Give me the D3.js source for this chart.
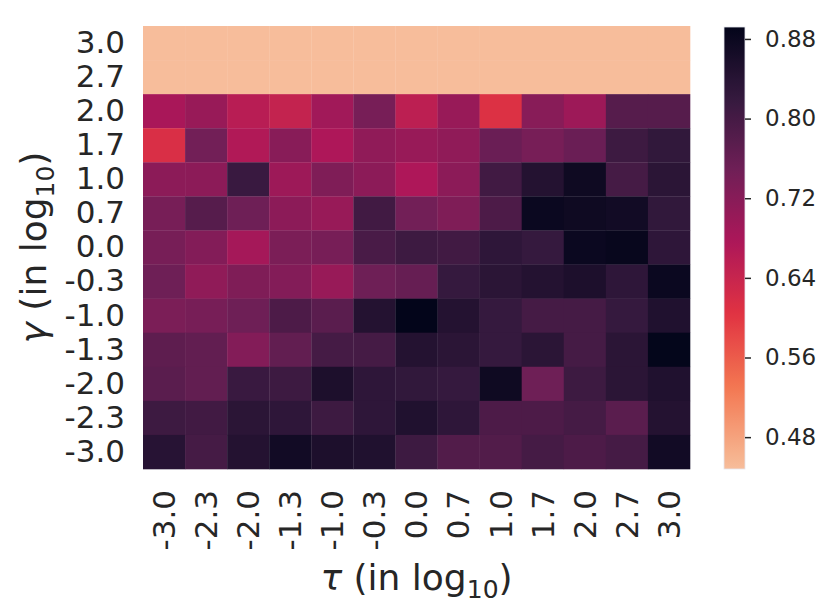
<!DOCTYPE html>
<html><head><meta charset="utf-8">
<script src="https://cdn.jsdelivr.net/npm/d3@7"></script>
<style>body{margin:0;background:#fff}text{font-family:"DejaVu Sans",sans-serif;fill:#262626}</style>
</head><body><svg id="c" width="830" height="613"></svg>
<script>
const tauLabels = ["-3.0","-2.3","-2.0","-1.3","-1.0","-0.3","0.0","0.7","1.0","1.7","2.0","2.7","3.0"];
const gammaLabels = ["3.0","2.7","2.0","1.7","1.0","0.7","0.0","-0.3","-1.0","-1.3","-2.0","-2.3","-3.0"];
const g30  = [0.448,0.448,0.448,0.448,0.448,0.448,0.448,0.448,0.448,0.448,0.448,0.448,0.448];
const g27  = [0.448,0.448,0.448,0.448,0.448,0.448,0.448,0.448,0.448,0.448,0.448,0.448,0.448];
const g20  = [0.68,0.70,0.66,0.645,0.69,0.74,0.655,0.70,0.61,0.72,0.695,0.78,0.78];
const g17  = [0.615,0.745,0.67,0.72,0.675,0.71,0.70,0.71,0.755,0.74,0.755,0.81,0.825];
const g10  = [0.715,0.715,0.815,0.695,0.73,0.715,0.675,0.715,0.805,0.845,0.875,0.80,0.835];
const g07  = [0.74,0.78,0.75,0.715,0.70,0.805,0.745,0.73,0.79,0.88,0.875,0.87,0.825];
const g00  = [0.74,0.725,0.685,0.735,0.74,0.795,0.81,0.805,0.83,0.82,0.88,0.885,0.83];
const gm03 = [0.75,0.71,0.73,0.725,0.70,0.75,0.76,0.82,0.835,0.845,0.855,0.83,0.88];
const gm10 = [0.735,0.74,0.75,0.79,0.775,0.845,0.892,0.845,0.82,0.80,0.80,0.82,0.85];
const gm13 = [0.77,0.765,0.725,0.765,0.80,0.80,0.845,0.835,0.82,0.835,0.80,0.835,0.89];
const gm20 = [0.775,0.765,0.815,0.81,0.855,0.83,0.825,0.82,0.875,0.75,0.81,0.835,0.85];
const gm23 = [0.81,0.805,0.835,0.83,0.81,0.83,0.85,0.83,0.79,0.79,0.80,0.775,0.845];
const gm30 = [0.84,0.80,0.845,0.87,0.855,0.85,0.81,0.785,0.785,0.80,0.79,0.80,0.87];
const cbTicks = [0.48,0.56,0.64,0.72,0.80,0.88];
const vmin = 0.448, vmax = 0.892;

const rows = [g30,g27,g20,g17,g10,g07,g00,gm03,gm10,gm13,gm20,gm23,gm30];
const cells = [];
rows.forEach((r,i)=>r.forEach((v,j)=>cells.push({g:gammaLabels[i],t:tauLabels[j],v})));

const rocketStops = ["#03051a","#35193e","#701f57","#ad1759","#e13342","#f37651","#f6b48f","#faebdd"];
const rocket = d3.piecewise(d3.interpolateRgb, rocketStops);
const color = d3.scaleSequential(t => rocket(0.88*(1-t))).domain([vmin, vmax]);

const svg = d3.select("#c");
const L=143, R=690, T=26, B=469;
const x = d3.scaleBand().domain(tauLabels).range([L,R]);
const y = d3.scaleBand().domain(gammaLabels).range([T,B]);

svg.append("g").selectAll("rect").data(cells).join("rect")
  .attr("x",d=>x(d.t)).attr("y",d=>y(d.g))
  .attr("width",x.bandwidth()+0.3).attr("height",y.bandwidth()+0.3)
  .attr("fill",d=>color(d.v));

const fs = 31;
const ya = svg.append("g").attr("transform",`translate(${L},0)`)
  .call(d3.axisLeft(y).tickSize(0).tickPadding(18));
ya.select(".domain").remove();
ya.selectAll("text").attr("font-size",fs).attr("font-family","DejaVu Sans").attr("fill","#262626");

const xa = svg.append("g").attr("transform",`translate(0,${B})`)
  .call(d3.axisBottom(x).tickSize(0));
xa.select(".domain").remove();
xa.selectAll("text").attr("font-size",fs).attr("font-family","DejaVu Sans").attr("fill","#262626")
  .attr("transform","rotate(-90)").attr("text-anchor","end")
  .attr("x",-21).attr("y",0).attr("dy","0.35em");

// axis labels
const xl = svg.append("text").attr("x",(L+R)/2).attr("y",590).attr("text-anchor","middle").attr("font-size",36);
xl.append("tspan").attr("font-style","italic").text("τ");
xl.append("tspan").text(" (in log");
xl.append("tspan").attr("font-size",25).attr("dy",8).text("10");
xl.append("tspan").attr("dy",-8).text(")");

const yl = svg.append("text").attr("transform",`translate(46,${(T+B)/2}) rotate(-90)`).attr("text-anchor","middle").attr("font-size",36);
yl.append("tspan").attr("font-style","italic").text("γ");
yl.append("tspan").text(" (in log");
yl.append("tspan").attr("font-size",25).attr("dy",8).text("10");
yl.append("tspan").attr("dy",-8).text(")");

// colorbar
const cbL=724, cbW=21, cbT=27, cbB=469;
const cy = d3.scaleLinear().domain([vmin,vmax]).range([cbB,cbT]);
const defs = svg.append("defs");
const grad = defs.append("linearGradient").attr("id","cbg").attr("x1",0).attr("y1",1).attr("x2",0).attr("y2",0);
d3.range(0,1.0001,0.02).forEach(s=>grad.append("stop").attr("offset",s).attr("stop-color",color(vmin+s*(vmax-vmin))));
svg.append("rect").attr("x",cbL).attr("y",cbT).attr("width",cbW).attr("height",cbB-cbT)
  .attr("fill","url(#cbg)").attr("stroke","#e6e6ee").attr("stroke-width",0.8);
const ca = svg.append("g").attr("transform",`translate(${cbL+cbW},0)`)
  .call(d3.axisRight(cy).tickValues(cbTicks).tickFormat(d3.format(".2f")).tickSize(6).tickPadding(14));
ca.select(".domain").remove();
ca.selectAll("line").attr("stroke","#262626").attr("stroke-width",1.5);
ca.selectAll("text").attr("font-size",23).attr("font-family","DejaVu Sans").attr("fill","#262626");
</script></body></html>
